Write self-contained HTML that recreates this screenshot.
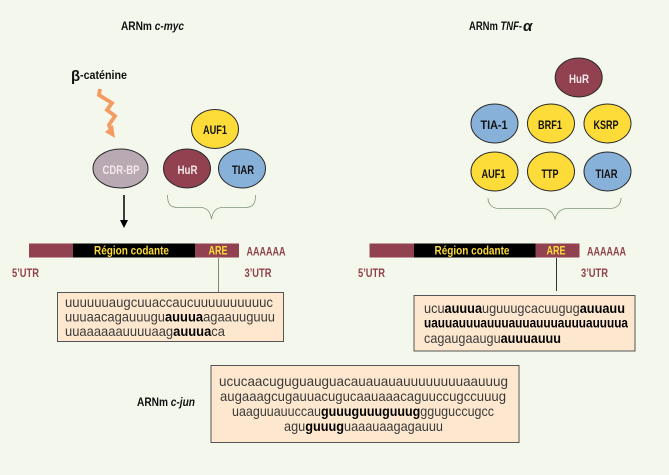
<!DOCTYPE html>
<html><head><meta charset="utf-8"><style>
html,body{margin:0;padding:0;background:#f4f8ec}
svg{display:block}
text{font-family:"Liberation Sans",sans-serif}
.b{font-weight:bold;font-size:12px;fill:#111}
.w{font-weight:bold;font-size:12px;fill:#f3e8ea}
.r{font-weight:bold;font-size:12px;fill:#8f4150}
.y{font-weight:bold;font-size:12px;fill:#fcdb3a}
.s{font-size:14px;fill:#3a3a3a}
.s tspan{font-weight:bold;fill:#000}
</style></head><body>
<svg width="669" height="475" viewBox="0 0 669 475" xmlns="http://www.w3.org/2000/svg">
<rect width="669" height="475" fill="#f4f8ec"/>

<text class="b" x="121" y="30" textLength="63" lengthAdjust="spacingAndGlyphs">ARNm <tspan font-style="italic">c-myc</tspan></text>
<text class="b" x="469" y="30" textLength="53" lengthAdjust="spacingAndGlyphs">ARNm <tspan font-style="italic">TNF-</tspan></text>
<text x="523" y="31" font-family="Liberation Serif" font-style="italic" font-weight="bold" font-size="15" fill="#111">α</text>
<text class="b" x="137" y="406" textLength="58" lengthAdjust="spacingAndGlyphs">ARNm <tspan font-style="italic">c-jun</tspan></text>

<text x="71" y="81" font-size="15" font-weight="bold" fill="#111">β</text>
<text class="b" x="80" y="79" textLength="47" lengthAdjust="spacingAndGlyphs">-caténine</text>
<polyline points="100,89 99,95 112,103 107,110 115,116 109,125 111,130" fill="none" stroke="#f49a63" stroke-width="3.800"/>
<polygon points="105,132 113,125 115,138" fill="#f49a63"/>

<g stroke="#2b2b2b" stroke-width="1">
<ellipse cx="120.5" cy="168.5" rx="27.5" ry="19.5" fill="#b9a9b3"/>
<ellipse cx="215" cy="129" rx="23.5" ry="19.5" fill="#fddc3a"/>
<ellipse cx="187" cy="168.5" rx="23.5" ry="19.5" fill="#914150"/>
<ellipse cx="242" cy="168.5" rx="23.5" ry="19.5" fill="#87b1d9"/>
<ellipse cx="578.7" cy="77.5" rx="23.5" ry="19.5" fill="#914150"/>
<ellipse cx="494.5" cy="123.5" rx="23.5" ry="19.5" fill="#87b1d9"/>
<ellipse cx="551" cy="123.5" rx="23.5" ry="19.5" fill="#fddc3a"/>
<ellipse cx="607.5" cy="123.5" rx="23.5" ry="19.5" fill="#fddc3a"/>
<ellipse cx="494.5" cy="171.5" rx="23.5" ry="19.5" fill="#fddc3a"/>
<ellipse cx="551" cy="171.5" rx="23.5" ry="19.5" fill="#fddc3a"/>
<ellipse cx="607.5" cy="171.5" rx="23.5" ry="19.5" fill="#87b1d9"/>
</g>
<g text-anchor="middle">
<text class="w" x="121" y="174" textLength="37" lengthAdjust="spacingAndGlyphs">CDR-BP</text>
<text class="b" x="215" y="134" textLength="24" lengthAdjust="spacingAndGlyphs">AUF1</text>
<text class="w" x="187.5" y="174" textLength="20" lengthAdjust="spacingAndGlyphs">HuR</text>
<text class="b" x="243" y="174" textLength="22" lengthAdjust="spacingAndGlyphs">TIAR</text>
<text class="w" x="579" y="83" textLength="20" lengthAdjust="spacingAndGlyphs">HuR</text>
<text class="b" x="494" y="129" textLength="27" lengthAdjust="spacingAndGlyphs">TIA-1</text>
<text class="b" x="550" y="129" textLength="24" lengthAdjust="spacingAndGlyphs">BRF1</text>
<text class="b" x="606" y="129" textLength="25" lengthAdjust="spacingAndGlyphs">KSRP</text>
<text class="b" x="493.500" y="178" textLength="24" lengthAdjust="spacingAndGlyphs">AUF1</text>
<text class="b" x="550" y="178" textLength="17" lengthAdjust="spacingAndGlyphs">TTP</text>
<text class="b" x="606.500" y="178" textLength="22" lengthAdjust="spacingAndGlyphs">TIAR</text>
</g>

<path d="M167.500 195 C167.500 204 170 207.500 178 207.500 L200 207.500 C207 207.500 210 211 211.500 219 C213 211 216 207.500 223 207.500 L245 207.500 C253 207.500 255.500 204 255.500 195" fill="none" stroke="#7f9478" stroke-width="0.8"/>
<path d="M488 198 C488 204 492 208.500 499 208.500 L542 208.500 C549 208.500 553 212 555 219 C557 212 561 208.500 568 208.500 L610 208.500 C617 208.500 621 204 621 198" fill="none" stroke="#7f9478" stroke-width="0.8"/>

<line x1="124" y1="195" x2="124" y2="222" stroke="#000" stroke-width="1.500"/>
<polygon points="120,220 128,220 124,228" fill="#000"/>

<!-- left bar -->
<rect x="29" y="243.500" width="210" height="14" fill="#914150"/>
<rect x="73" y="243.500" width="122" height="14" fill="#000"/>
<text class="y" x="94" y="254.500" textLength="75" lengthAdjust="spacingAndGlyphs">Région codante</text>
<text class="y" x="208.500" y="254.500" textLength="19" lengthAdjust="spacingAndGlyphs">ARE</text>
<text class="r" x="246.500" y="255.500" textLength="39" lengthAdjust="spacingAndGlyphs">AAAAAA</text>
<text class="r" x="12" y="277" textLength="27" lengthAdjust="spacingAndGlyphs">5’UTR</text>
<text class="r" x="244.500" y="277" textLength="27" lengthAdjust="spacingAndGlyphs">3’UTR</text>
<line x1="218.500" y1="258" x2="218.500" y2="292" stroke="#7f8a70" stroke-width="1"/>
<rect x="57.500" y="292.500" width="226" height="49" fill="#fde8cf" stroke="#555" stroke-width="1"/>
<text class="s" x="65" y="307" textLength="208" lengthAdjust="spacingAndGlyphs">uuuuuuaugcuuaccaucuuuuuuuuuuc</text>
<text class="s" x="65" y="321.500" textLength="210" lengthAdjust="spacingAndGlyphs">uuuaacagauuugu<tspan>auuua</tspan>agaauuguuu</text>
<text class="s" x="65" y="336" textLength="160" lengthAdjust="spacingAndGlyphs">uuaaaaaauuuuaag<tspan>auuua</tspan>ca</text>

<!-- right bar -->
<rect x="369.500" y="243.500" width="210" height="14" fill="#914150"/>
<rect x="414" y="243.500" width="121.500" height="14" fill="#000"/>
<text class="y" x="434.500" y="254.500" textLength="75" lengthAdjust="spacingAndGlyphs">Région codante</text>
<text class="y" x="546.500" y="254.500" textLength="19" lengthAdjust="spacingAndGlyphs">ARE</text>
<text class="r" x="587" y="255.500" textLength="39" lengthAdjust="spacingAndGlyphs">AAAAAA</text>
<text class="r" x="358" y="277" textLength="27" lengthAdjust="spacingAndGlyphs">5’UTR</text>
<text class="r" x="581" y="277" textLength="27" lengthAdjust="spacingAndGlyphs">3’UTR</text>
<line x1="556.500" y1="258" x2="556.500" y2="291" stroke="#333" stroke-width="1"/>
<rect x="414" y="295.500" width="221" height="55.500" fill="#fde8cf" stroke="#555" stroke-width="1"/>
<text class="s" x="424" y="313" textLength="201" lengthAdjust="spacingAndGlyphs">ucu<tspan>auuua</tspan>uguuugcacuugug<tspan>auuauu</tspan></text>
<text class="s" x="424" y="327.500" textLength="204" lengthAdjust="spacingAndGlyphs"><tspan>uauuauuuauuuauuauuuauuuauuuua</tspan></text>
<text class="s" x="424" y="343" textLength="137" lengthAdjust="spacingAndGlyphs">cagaugaaugu<tspan>auuuauuu</tspan></text>

<!-- bottom box -->
<rect x="211" y="365.500" width="308" height="77" fill="#fde8cf" stroke="#555" stroke-width="1"/>
<text class="s" x="219" y="386" textLength="289" lengthAdjust="spacingAndGlyphs">ucucaacuguguauguacauauauauuuuuuuuaauuug</text>
<text class="s" x="220" y="401" textLength="286" lengthAdjust="spacingAndGlyphs">augaaagcugauuacugucaauaaacaguuccugccuuug</text>
<text class="s" x="232" y="416" textLength="262" lengthAdjust="spacingAndGlyphs">uaaguuauuccau<tspan>guuuguuuguuug</tspan>gguguccugcc</text>
<text class="s" x="284" y="431" textLength="159" lengthAdjust="spacingAndGlyphs">agu<tspan>guuug</tspan>uaaauaagagauuu</text>
</svg>
</body></html>
